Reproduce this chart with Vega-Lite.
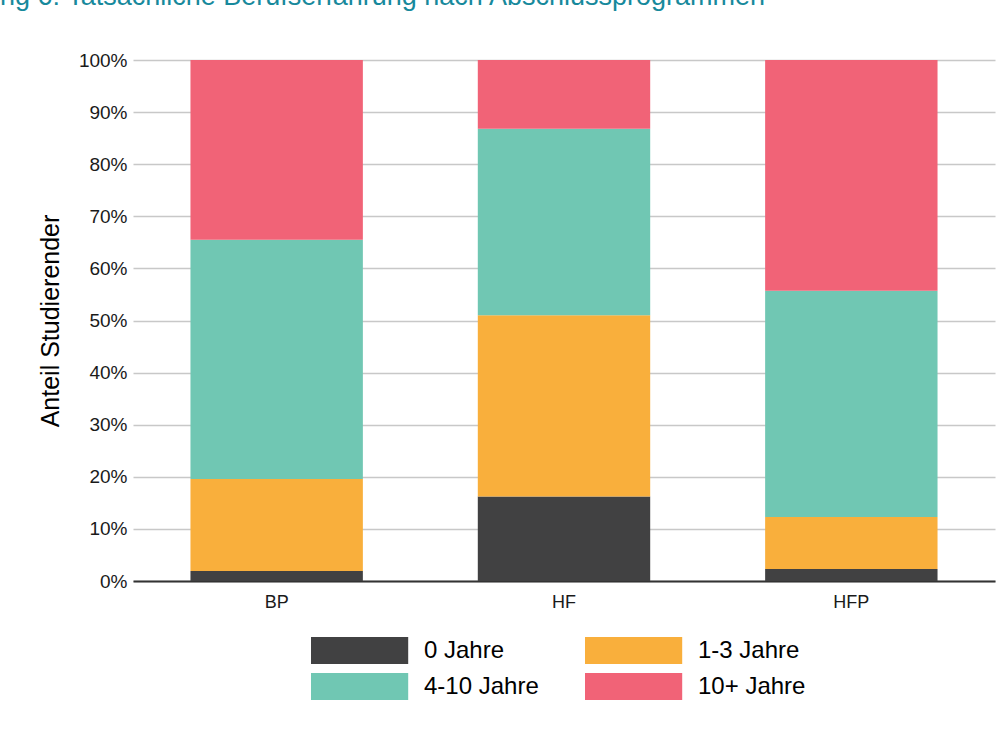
{
  "$schema": "https://vega.github.io/schema/vega-lite/v6.json",
  "autosize": "none",
  "width": 862,
  "height": 521,
  "padding": {"left": 133, "top": 60, "right": 11, "bottom": 155},
  "background": "white",
  "title": {
    "text": "Abbildung 6: Tatsächliche Berufserfahrung nach Abschlussprogrammen",
    "anchor": "start",
    "frame": "group",
    "font": "Liberation Sans",
    "fontSize": 27,
    "fontWeight": "normal",
    "color": "#17899c",
    "baseline": "alphabetic",
    "orient": "top",
    "offset": 0,
    "dx": -223,
    "dy": -19
  },
  "data": {
    "values": [
      {"Programm": "BP", "Erfahrung": "0 Jahre", "rang": 1, "Anteil": 0.019},
      {"Programm": "BP", "Erfahrung": "1-3 Jahre", "rang": 2, "Anteil": 0.177},
      {"Programm": "BP", "Erfahrung": "4-10 Jahre", "rang": 3, "Anteil": 0.459},
      {"Programm": "BP", "Erfahrung": "10+ Jahre", "rang": 4, "Anteil": 0.345},
      {"Programm": "HF", "Erfahrung": "0 Jahre", "rang": 1, "Anteil": 0.162},
      {"Programm": "HF", "Erfahrung": "1-3 Jahre", "rang": 2, "Anteil": 0.348},
      {"Programm": "HF", "Erfahrung": "4-10 Jahre", "rang": 3, "Anteil": 0.358},
      {"Programm": "HF", "Erfahrung": "10+ Jahre", "rang": 4, "Anteil": 0.132},
      {"Programm": "HFP", "Erfahrung": "0 Jahre", "rang": 1, "Anteil": 0.023},
      {"Programm": "HFP", "Erfahrung": "1-3 Jahre", "rang": 2, "Anteil": 0.100},
      {"Programm": "HFP", "Erfahrung": "4-10 Jahre", "rang": 3, "Anteil": 0.434},
      {"Programm": "HFP", "Erfahrung": "10+ Jahre", "rang": 4, "Anteil": 0.443}
    ]
  },
  "mark": {"type": "bar"},
  "encoding": {
    "x": {
      "field": "Programm",
      "type": "nominal",
      "sort": ["BP", "HF", "HFP"],
      "scale": {"paddingInner": 0.4, "paddingOuter": 0.2},
      "axis": {
        "title": null,
        "labelAngle": 0,
        "labelFont": "Liberation Sans",
        "labelFontSize": 18,
        "labelColor": "#1a1a1a",
        "labelPadding": 12,
        "ticks": false,
        "domainColor": "#333333",
        "domainWidth": 2,
        "grid": false
      }
    },
    "y": {
      "field": "Anteil",
      "type": "quantitative",
      "stack": "zero",
      "scale": {"domain": [0, 1], "nice": false},
      "axis": {
        "title": "Anteil Studierender",
        "titleFont": "Liberation Sans",
        "titleFontSize": 25,
        "titleFontWeight": "normal",
        "titleColor": "#000000",
        "titlePadding": 15,
        "values": [0, 0.1, 0.2, 0.3, 0.4, 0.5, 0.6, 0.7, 0.8, 0.9, 1.0],
        "format": ".0%",
        "labelFont": "Liberation Sans",
        "labelFontSize": 19,
        "labelColor": "#1a1a1a",
        "labelPadding": 6,
        "ticks": false,
        "domain": false,
        "grid": true,
        "gridColor": "#c8c8c8",
        "gridWidth": 1.5
      }
    },
    "color": {
      "field": "Erfahrung",
      "type": "nominal",
      "scale": {
        "domain": ["0 Jahre", "1-3 Jahre", "4-10 Jahre", "10+ Jahre"],
        "range": ["#414142", "#f9af3c", "#70c7b3", "#f16377"]
      },
      "legend": {
        "title": null,
        "orient": "none",
        "legendX": 178,
        "legendY": 577,
        "direction": "horizontal",
        "columns": 2,
        "symbolType": "M-1,-1H6.2V1H-1Z",
        "symbolSize": 729,
        "symbolStrokeWidth": 0,
        "symbolOpacity": 1,
        "labelFont": "Liberation Sans",
        "labelFontSize": 24,
        "labelColor": "#000000",
        "labelOffset": 86,
        "rowPadding": 9,
        "columnPadding": 46
      }
    },
    "order": {"field": "rang", "type": "quantitative", "sort": "ascending"}
  },
  "config": {
    "view": {"stroke": null}
  }
}
